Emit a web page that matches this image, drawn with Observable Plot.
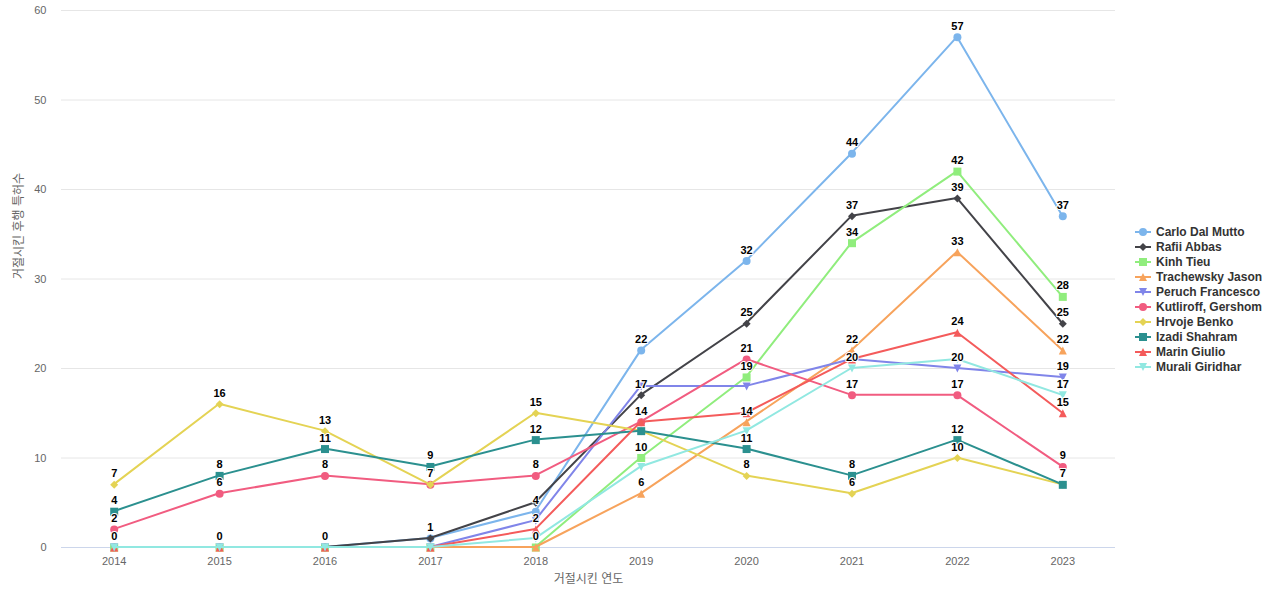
<!DOCTYPE html>
<html><head><meta charset="utf-8">
<script src="https://cdn.jsdelivr.net/npm/d3@7"></script>
<script src="https://cdn.jsdelivr.net/npm/@observablehq/plot@0.6"></script>
<style>
body{margin:0;background:#fff;font-family:"Liberation Sans",Arial,"Noto Sans CJK KR",sans-serif;}
#wrap{position:relative;width:1280px;height:600px;overflow:hidden;}
#legend{position:absolute;left:1135px;top:224px;}
.item{height:15px;display:flex;align-items:center;font-size:12px;font-weight:bold;color:#333;white-space:nowrap;}
.item svg{margin-right:5px;flex:none;}
</style></head>
<body><div id="wrap"><div id="chart"></div><div id="legend"></div></div>
<script>
const years = [2014, 2015, 2016, 2017, 2018, 2019, 2020, 2021, 2022, 2023];
const seriesNames = ["Carlo Dal Mutto", "Rafii Abbas", "Kinh Tieu", "Trachewsky Jason", "Peruch Francesco", "Kutliroff, Gershom", "Hrvoje Benko", "Izadi Shahram", "Marin Giulio", "Murali Giridhar"];
const seriesColors = ["#7cb5ec", "#434348", "#90ed7d", "#f7a35c", "#8085e9", "#f15c80", "#e4d354", "#2b908f", "#f45b5b", "#91e8e1"];
const seriesSymbols = ["circle", "diamond", "square", "triangle", "triangleDown", "circle", "diamond", "square", "triangle", "triangleDown"];

const carloDalMutto    = [0, 0, 0, 1, 4, 22, 32, 44, 57, 37];
const rafiiAbbas       = [null, null, 0, 1, 5, 17, 25, 37, 39, 25];
const kinhTieu         = [0, 0, 0, 0, 0, 10, 19, 34, 42, 28];
const trachewskyJason  = [0, 0, 0, 0, 0, 6, 14, 22, 33, 22];
const peruchFrancesco  = [0, 0, 0, 0, 3, 18, 18, 21, 20, 19];
const kutliroffGershom = [2, 6, 8, 7, 8, 14, 21, 17, 17, 9];
const hrvojeBenko      = [7, 16, 13, 7, 15, 13, 8, 6, 10, 7];
const izadiShahram     = [4, 8, 11, 9, 12, 13, 11, 8, 12, 7];
const marinGiulio      = [0, 0, 0, 0, 2, 14, 15, 21, 24, 15];
const muraliGiridhar   = [0, 0, 0, 0, 1, 9, 13, 20, 21, 17];

const seriesValues = [carloDalMutto, rafiiAbbas, kinhTieu, trachewskyJason, peruchFrancesco, kutliroffGershom, hrvojeBenko, izadiShahram, marinGiulio, muraliGiridhar];
const yTicks = [0, 10, 20, 30, 40, 50, 60];
const xTitle = "거절시킨 연도";
const yTitle = "거절시킨 후행 특허수";

const FONT = '"Liberation Sans", Arial, "Noto Sans CJK KR", sans-serif';

function shapePath(ctx, name, r) {
  if (name === "circle") { ctx.moveTo(r, 0); ctx.arc(0, 0, r, 0, 2 * Math.PI); }
  else if (name === "square") { ctx.moveTo(-r, -r); ctx.lineTo(r, -r); ctx.lineTo(r, r); ctx.lineTo(-r, r); ctx.closePath(); }
  else if (name === "diamond") { ctx.moveTo(0, -r); ctx.lineTo(r, 0); ctx.lineTo(0, r); ctx.lineTo(-r, 0); ctx.closePath(); }
  else if (name === "triangle") { ctx.moveTo(0, -r); ctx.lineTo(r, r); ctx.lineTo(-r, r); ctx.closePath(); }
  else { ctx.moveTo(0, r); ctx.lineTo(r, -r); ctx.lineTo(-r, -r); ctx.closePath(); }
}
function symbolOf(name) {
  return { draw(ctx, size) { shapePath(ctx, name, Math.sqrt(size / Math.PI)); } };
}

const rows = [];
seriesNames.forEach((name, s) => {
  years.forEach((yr, i) => {
    const v = seriesValues[s][i];
    if (v != null) rows.push({ series: name, idx: s, year: yr, value: v });
  });
});

function build(labels) {
  const marks = [
    Plot.gridY(yTicks, { stroke: "#e6e6e6", strokeOpacity: 1 }),
    Plot.ruleY([0], { stroke: "#ccd6eb" }),
    Plot.axisY(yTicks, { tickSize: 0, tickPadding: 15, color: "#666", fontSize: 11, label: null }),
    Plot.axisX(years, { tickSize: 0, tickPadding: 10, color: "#666", fontSize: 11, label: null, tickFormat: d => String(d) }),
    Plot.text([xTitle], { frameAnchor: "bottom", dy: 32, text: d => d, fill: "#666", fontSize: 12, lineAnchor: "middle" }),
    Plot.text([yTitle], { frameAnchor: "left", dx: -42, rotate: -90, text: d => d, fill: "#666", fontSize: 12, lineAnchor: "middle" })
  ];
  seriesNames.forEach((name, s) => {
    const data = rows.filter(d => d.idx === s);
    marks.push(Plot.line(data, { x: "year", y: "value", stroke: seriesColors[s], strokeWidth: 2, strokeLinejoin: "round", strokeLinecap: "round", dx: -0.5, dy: -0.5 }));
    marks.push(Plot.dot(data, { x: "year", y: "value", fill: seriesColors[s], stroke: "none", r: 4, symbol: symbolOf(seriesSymbols[s]) }));
  });
  marks.push(Plot.text(labels, { x: "year", y: "value", text: d => String(d.value), dy: -11, lineAnchor: "middle", fontWeight: "bold", fontSize: 11, fill: "#000", stroke: "#fff", strokeWidth: 2 }));
  return Plot.plot({
    width: 1280, height: 600,
    marginLeft: 61, marginRight: 165, marginTop: 10, marginBottom: 53,
    style: { fontFamily: FONT, background: "white", overflow: "visible" },
    x: { type: "point", domain: years, padding: 0.5, round: false, axis: null },
    y: { domain: [0, 60], axis: null },
    marks
  });
}

// place data labels, hiding those overlapping a higher-ranked (earlier) series' label
const probe = build([]);
const ys = probe.scale("y");
const placed = new Map();
const labels = [];
for (const d of rows) {
  const cy = ys.apply(d.value) - 11;
  const arr = placed.get(d.year) || [];
  if (arr.some(c => Math.abs(c - cy) < 14)) continue;
  arr.push(cy); placed.set(d.year, arr);
  labels.push(d);
}
document.getElementById("chart").appendChild(build(labels));

// legend
const legend = document.getElementById("legend");
seriesNames.forEach((name, s) => {
  const item = document.createElement("div");
  item.className = "item";
  const p = d3.path();
  const ctx = { moveTo: (x, y) => p.moveTo(x + 8, y + 5), lineTo: (x, y) => p.lineTo(x + 8, y + 5), arc: (x, y, r, a0, a1) => p.arc(x + 8, y + 5, r, a0, a1), closePath: () => p.closePath() };
  shapePath(ctx, seriesSymbols[s], 4);
  item.innerHTML = `<svg width="16" height="10"><line x1="0" x2="16" y1="5" y2="5" stroke="${seriesColors[s]}" stroke-width="2"/><path d="${p.toString()}" fill="${seriesColors[s]}"/></svg><span>${name}</span>`;
  legend.appendChild(item);
});
</script>
</body></html>
